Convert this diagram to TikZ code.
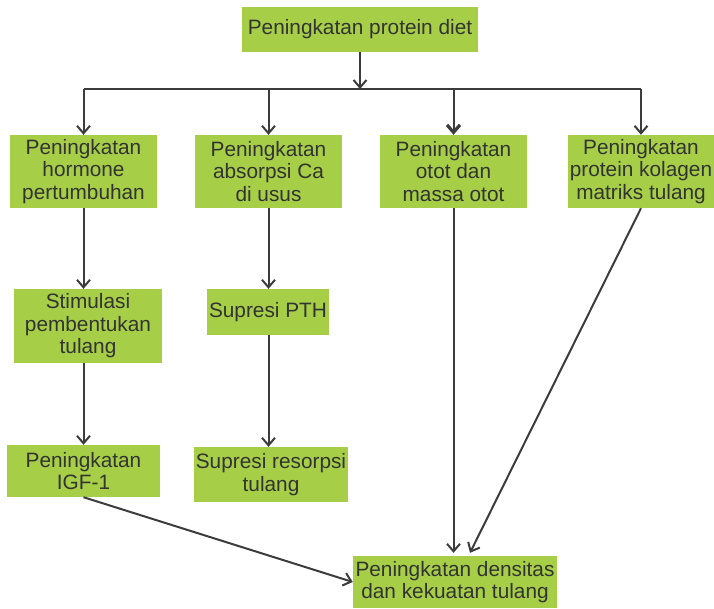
\documentclass[tikz,border=0pt]{standalone}
\usepackage{fontspec}
\setmainfont{Liberation Sans}
\usetikzlibrary{arrows.meta}
\definecolor{boxgreen}{RGB}{166,206,70}
\definecolor{ink}{RGB}{51,51,51}
\definecolor{wire}{RGB}{60,60,60}
\begin{document}
\begin{tikzpicture}[x=1pt,y=-1pt,
  box/.style={fill=boxgreen, text=ink, align=center, inner sep=0pt,
    font=\fontsize{20.8}{22.5}\selectfont},
  wireline/.style={draw=wire, line width=2pt},
  link/.style={wireline, -{Straight Barb[length=7.5pt,width=13pt,line width=2pt]}},
  boldlink/.style={wireline, -{Straight Barb[length=7.5pt,width=13pt,line width=3.2pt]}}]
\useasboundingbox (0,0) rectangle (714,608);

% boxes
\node[box, minimum width=236pt, minimum height=45pt] (top) at (360,29.5) {Peningkatan protein diet};

\node[box, minimum width=147pt, minimum height=73pt] (b1) at (83.5,171.5) {Peningkatan\\hormone\\pertumbuhan};
\node[box, minimum width=147pt, minimum height=73pt] (b2) at (268.5,171.5) {Peningkatan\\absorpsi Ca\\di usus};
\node[box, minimum width=147pt, minimum height=73pt] (b3) at (453.5,171.5) {Peningkatan\\otot dan\\massa otot};
\node[box, minimum width=146pt, minimum height=73pt] (b4) at (641,171.5) {Peningkatan\\protein kolagen\\matriks tulang};

\node[box, minimum width=148pt, minimum height=74pt] (stim) at (88,326) {Stimulasi\\pembentukan\\tulang};
\node[box, minimum width=122pt, minimum height=46pt] (pth) at (268,312) {Supresi PTH};

\node[box, minimum width=153pt, minimum height=52pt] (igf) at (83.5,471) {Peningkatan\\IGF-1};
\node[box, minimum width=154pt, minimum height=55pt] (res) at (271,474.5) {Supresi resorpsi\\tulang};

\node[box, minimum width=204pt, minimum height=52pt] (final) at (455,582) {Peningkatan densitas\\dan kekuatan tulang};

% distribution bus
\coordinate (bus) at (360,89);
\draw[link] (top.south) -- (bus);
\draw[wireline] (b1.north |- bus) -- (b4.north |- bus);
\foreach \b in {b1,b2,b4}
  \draw[link] (\b.north |- bus) -- (\b.north);
\draw[boldlink] (b3.north |- bus) -- (b3.north);

% chains
\draw[link] (b1.south) -- (b1.south |- stim.north);
\draw[link] (b1.south |- stim.south) -- (b1.south |- igf.north);
\draw[link] (b2.south) -- (b2.south |- pth.north);
\draw[link] (b2.south |- pth.south) -- (b2.south |- res.north);

% into the final box
\draw[link] (b3.south) -- ([yshift=3pt]b3.south |- final.north);
\draw[link] (b4.south) -- ([xshift=15pt,yshift=3pt]final.north);
\draw[link] (igf.south) -- (final.west);
\end{tikzpicture}
\end{document}
